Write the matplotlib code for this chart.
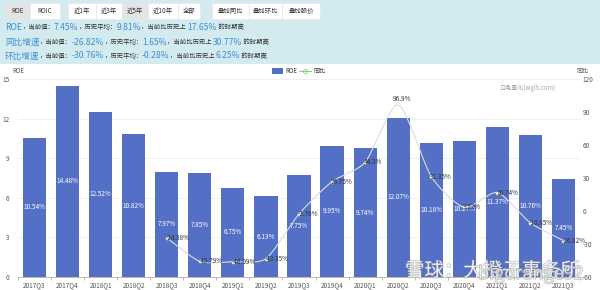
import matplotlib
matplotlib.use("Agg")
import matplotlib.pyplot as plt
import numpy as np
from matplotlib.patches import Rectangle
from matplotlib.lines import Line2D
import matplotlib.patheffects as pe

plt.rcParams['font.family'] = ['Noto Sans CJK SC', 'DejaVu Sans']

categories = ["2017Q3", "2017Q4", "2018Q1", "2018Q2", "2018Q3", "2018Q4", "2019Q1",
              "2019Q2", "2019Q3", "2019Q4", "2020Q1", "2020Q2", "2020Q3", "2020Q4",
              "2021Q1", "2021Q2", "2021Q3"]
roe = [10.54, 14.48, 12.52, 10.82, 7.97, 7.85, 6.75, 6.13, 7.75, 9.95, 9.74, 12.07,
       10.18, 10.27, 11.37, 10.76, 7.45]
yoy = [None, None, None, None, -24.38, -45.79, -46.09, -43.35, -2.76, 26.75, 44.3,
       96.9, 31.35, 3.22, 16.74, -10.85, -26.82]
left_ticks = [0, 3, 6, 9, 12, 15]
right_ticks = [-60, -30, 0, 30, 60, 90, 120]

W, H = 600, 290
fig = plt.figure(figsize=(6, 2.9), dpi=100)
fig.patch.set_facecolor("white")

def fx(px): return px / W
def fy(py): return 1 - py / H

# header background
fig.patches.append(Rectangle((0, fy(64)), 1, 64 / H, transform=fig.transFigure,
                             facecolor="#d3eaef", edgecolor="none", zorder=0))

# buttons
buttons = [("ROE", 5, 30, "#e4e4e4"), ("ROIC", 30, 60, "white"),
           ("近1年", 68, 96, "white"), ("近3年", 96, 122, "white"), ("近5年", 122, 148, "#e4e4e4"),
           ("近10年", 148, 178, "white"), ("全部", 178, 200, "white"),
           ("叠加同比", 212, 249, "white"), ("叠加环比", 249, 282, "white"), ("叠加股价", 282, 320, "white")]
for lab, x0, x1, col in buttons:
    fig.patches.append(Rectangle((fx(x0), fy(19)), fx(x1 - x0), 16 / H, transform=fig.transFigure,
                                 facecolor=col, edgecolor="#e0e6e8", linewidth=0.4, zorder=1))
    fig.text(fx((x0 + x1) / 2), fy(11), lab, fontsize=4.6, color="#333333",
             ha="center", va="center", zorder=2)

renderer = fig.canvas.get_renderer()

def seg_line(y, segs, x=5):
    cx = x
    for s, col, size in segs:
        t = fig.text(fx(cx), fy(y), s, fontsize=size, color=col, ha="left", va="center")
        bb = t.get_window_extent(renderer=renderer)
        cx += bb.width
    return cx

blue = "#3d8fd6"
dark = "#333333"
seg_line(27, [("ROE", blue, 6.2), ("，当前值：", dark, 4.6), ("7.45%", blue, 6.2),
              ("，历史平均：", dark, 4.6), ("9.81%", blue, 6.2),
              ("，当前比历史上 ", dark, 4.6), ("17.65%", blue, 6.2), (" 的时期高", dark, 4.6)])
seg_line(42, [("同比增速", blue, 6.2), ("，当前值：", dark, 4.6), ("-26.82%", blue, 6.2),
              ("，历史平均：", dark, 4.6), ("1.65%", blue, 6.2),
              ("，当前比历史上 ", dark, 4.6), ("30.77%", blue, 6.2), (" 的时期高", dark, 4.6)])
seg_line(56, [("环比增速", blue, 6.2), ("，当前值：", dark, 4.6), ("-30.76%", blue, 6.2),
              ("，历史平均：", dark, 4.6), ("-0.28%", blue, 6.2),
              ("，当前比历史上 ", dark, 4.6), ("6.25%", blue, 6.2), (" 的时期高", dark, 4.6)])

# main axes
ax = fig.add_axes([fx(18), fy(277), fx(580 - 18), (277 - 79) / H])
ax.set_facecolor("none")
x = np.arange(len(categories))
bar_color = "#5470c6"
ax.bar(x, roe, width=0.7, color=bar_color, zorder=2)
ax.set_xlim(-0.5, len(categories) - 0.5)
ax.set_ylim(0, 15)
ax.set_yticks(left_ticks)
ax.set_yticklabels([str(v) for v in left_ticks])
ax.set_xticks(x)
ax.set_xticklabels(categories)
ax.tick_params(axis="x", length=0, labelsize=4.6, labelcolor="#555555", pad=3)
ax.set_xticks(np.arange(-0.5, len(categories), 1), minor=True)
ax.tick_params(axis="x", which="minor", length=2.5, width=0.5, color="#999999")
ax.tick_params(axis="y", length=0, labelsize=4.6, labelcolor="#555555", pad=6)
for sp in ["top", "right", "left"]:
    ax.spines[sp].set_visible(False)
ax.spines["bottom"].set_color("#b8b08a")
ax.spines["bottom"].set_linewidth(0.6)
ax.grid(axis="y", color="#eeeeee", linewidth=0.6, zorder=0)
ax.set_axisbelow(True)

for xi, v in zip(x, roe):
    ax.text(xi, v / 2, f"{v:.2f}%", color="white", fontsize=4.6, ha="center", va="center", zorder=3)

# secondary axis
ax2 = ax.twinx()
ax2.set_ylim(-60, 120)
ax2.set_yticks(right_ticks)
ax2.set_yticklabels([str(v) for v in right_ticks])
ax2.tick_params(axis="y", length=0, labelsize=4.6, labelcolor="#555555", pad=2)
for sp in ["top", "right", "left", "bottom"]:
    ax2.spines[sp].set_visible(False)

xs = np.array([xi for xi, v in zip(x, yoy) if v is not None], dtype=float)
ys = np.array([v for v in yoy if v is not None], dtype=float)

# smooth drawing (cardinal spline through the points, reduced tension)
def cardinal(xp, yp, n=20, k=0.35):
    P = np.column_stack([xp, yp])
    P = np.vstack([P[0], P, P[-1]])
    out = []
    for i in range(1, len(P) - 2):
        p0, p1, p2, p3 = P[i - 1], P[i], P[i + 1], P[i + 2]
        m1 = k * (p2 - p0)
        m2 = k * (p3 - p1)
        t = np.linspace(0, 1, n)[:, None]
        h00 = 2 * t ** 3 - 3 * t ** 2 + 1
        h10 = t ** 3 - 2 * t ** 2 + t
        h01 = -2 * t ** 3 + 3 * t ** 2
        h11 = t ** 3 - t ** 2
        out.append(h00 * p1 + h10 * m1 + h01 * p2 + h11 * m2)
    c = np.vstack(out)
    return c[:, 0], c[:, 1]

sx, sy = cardinal(xs, ys)
ax2.plot(sx, sy, color="#dcdcdc", linewidth=0.8, zorder=4)
ax2.scatter(xs, ys, s=5, facecolor="white", edgecolor="#cfe0c0", linewidth=0.4, zorder=5)

def fmt(v):
    s = f"{v:.2f}".rstrip("0").rstrip(".")
    return s + "%"

for xi, v in zip(xs, ys):
    if v > 90:
        ax2.annotate(fmt(v), (xi, v), xytext=(3, 1), textcoords="offset points",
                     fontsize=4.6, color="#333333", ha="center", va="bottom", zorder=6)
    else:
        ax2.annotate(fmt(v), (xi, v), xytext=(-1, 0), textcoords="offset points",
                     fontsize=4.6, color="#333333", ha="left", va="center", zorder=6)

# axis names, legend, watermark
fig.text(fx(12), fy(71), "ROE", fontsize=4.4, color="#555555", ha="left", va="center")
fig.text(fx(576), fy(71), "同比", fontsize=4.4, color="#555555", ha="left", va="center")
fig.patches.append(Rectangle((fx(272), fy(74)), fx(11), 6 / H, transform=fig.transFigure,
                             facecolor=bar_color, edgecolor="none"))
fig.text(fx(285), fy(71), "ROE", fontsize=4.4, color="#333333", ha="left", va="center")
fig.lines.append(Line2D([fx(299), fx(311)], [fy(71), fy(71)], transform=fig.transFigure,
                        color="#91cc75", linewidth=0.7, zorder=5))
fig.lines.append(Line2D([fx(305)], [fy(71)], transform=fig.transFigure, color="#91cc75",
                        marker="o", markersize=3, markerfacecolor="white", markeredgewidth=0.6))
fig.text(fx(313), fy(71), "同比", fontsize=4.4, color="#333333", ha="left", va="center")
fig.text(fx(500), fy(88), "乌龟量化(wglh.com)", fontsize=4.4, color="#aaaaaa", ha="left", va="center")

stroke = [pe.withStroke(linewidth=1.0, foreground="#8a8a8a", alpha=0.5)]
fig.text(fx(405), fy(271), "雪球：大橙子事务所", fontsize=14, color="white", alpha=0.8,
         ha="left", va="center", zorder=10, path_effects=stroke)
fig.text(fx(478), fy(274), "bigorange92", fontsize=13, color="white", alpha=0.6,
         ha="left", va="center", zorder=10, path_effects=stroke)

fig.savefig("out.png", dpi=100)
